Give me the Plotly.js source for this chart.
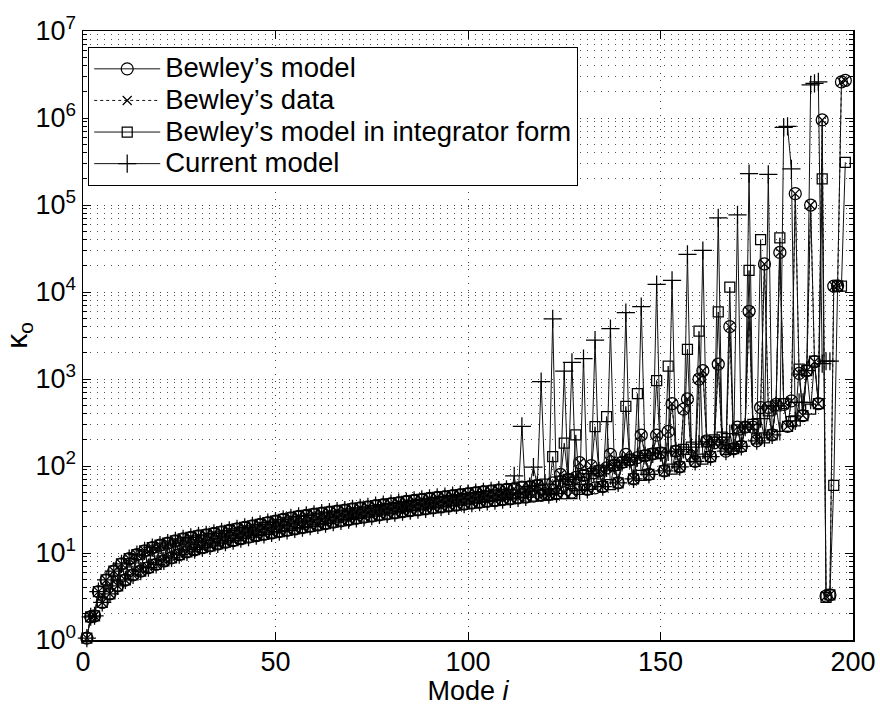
<!DOCTYPE html>
<html><head><meta charset="utf-8">
<script src="https://cdn.plot.ly/plotly-3.0.1.min.js"></script>
<style>html,body{margin:0;padding:0;background:#fff}#chart{width:880px;height:706px}</style>
</head><body><div id="chart"></div>
<script>
// kappa_o for modes 1..110 (all four series coincide here; odd/even modes form two bands)
const lowKappa = [
 1.05,1.85,1.9,3.6,2.7,4.9,3.4,6.2,4.2,7.5,
 4.9,8.6,5.6,9.6,6.2,10.6,6.8,11.5,7.4,12.3,
 8.1,13.0,8.8,13.8,9.6,14.5,10.3,15.1,10.9,15.7,
 11.5,16.2,12.1,16.8,12.7,17.5,13.3,18.2,13.9,18.9,
 14.6,19.7,15.2,20.5,15.8,21.4,16.4,22.3,17.0,23.3,
 17.6,24.3,18.2,25.4,18.9,26.3,19.6,27.1,20.3,27.9,
 21.0,28.7,21.8,29.5,22.6,30.3,23.4,31.2,24.2,32.1,
 25.0,33.0,25.8,34.0,26.6,35.0,27.4,36.0,28.2,37.0,
 29.0,38.0,29.8,39.1,30.6,40.2,31.4,41.3,32.2,42.4,
 33.0,43.5,33.8,44.6,34.7,45.8,35.6,47.0,36.5,48.2,
 37.4,49.4,38.3,50.6,39.2,51.8,40.1,53.0,41.0,54.0
];
// modes 111..198
const bewleyModelHigh = [
 42,55,43,57,44,58,45,60,46,48,
 47,64,48,80,49,70,50,74,109,78,
 54,101,56,88,58,95,136,102,64,110,
 136,118,71,125,226,132,80,138,226,142,
 88,250,520,148,98,450,590,130,113,1000,
 1245,195,128,185,1480,185,148,4000,158,280,
 168,280,6000,280,195,470,21000,470,228,510,
 28500,510,285,560,135000,1160,380,1250,100000,1580,
 520,950000,3.2,3.3,11700,11800,2600000,2700000
];
// modes 111..198
const integratorHigh = [
 42,55,43,57,44,58,45,60,46,62,
 47,128,48,67,183,70,48,228,54,78,
 54,82,283,88,58,370,61,102,64,110,
 485,118,71,680,78,132,80,138,960,142,
 88,1410,92,148,98,155,2190,165,113,3540,
 120,190,128,200,5900,215,154,11400,158,260,
 168,280,17700,300,205,40000,210,430,228,490,
 42000,520,285,324,330,1300,380,1250,450,1600,
 520,200000,3.1,3.3,60,11700,11700,310000
];
// modes 111..194
const currentModelHigh = [
 42,77,43,285,44,58,97,60,935,62,
 47,4900,48,67,1230,70,1550,74,52,1720,
 54,82,2800,88,58,95,3800,102,64,110,
 5800,118,71,125,6800,132,80,138,12200,142,
 88,145,13600,148,98,155,27000,165,113,178,
 30000,190,128,200,71000,215,148,235,158,77000,
 168,280,230000,300,195,350,210,225000,228,490,
 250,780000,800000,260000,330,540,540,1250,2400000,2500000,
 2600000,1500,1600,1600
];
const seriesNames = ["Bewley\u2019s model","Bewley\u2019s data","Bewley\u2019s model in integrator form","Current model"];
const xTickVals = [0,50,100,150,200];
const yTickVals = [1,10,100,1000,10000,100000,1000000,10000000];
const yTickText = ["10<sup>0</sup>","10<sup>1</sup>","10<sup>2</sup>","10<sup>3</sup>","10<sup>4</sup>","10<sup>5</sup>","10<sup>6</sup>","10<sup>7</sup>"];

const yModel = lowKappa.concat(bewleyModelHigh);
const yData = lowKappa.concat(bewleyModelHigh);
const yInt = lowKappa.concat(integratorHigh);
const yCur = lowKappa.concat(currentModelHigh);
const modesOf = arr => arr.map((_, k) => k + 1);

const minorVals = [];
for (let e = 0; e < 7; e++) for (let m = 2; m <= 9; m++) minorVals.push(m * Math.pow(10, e));

const FONT = "Liberation Sans, Arial, Helvetica, sans-serif";
const lineCol = "#111";
function tr(name, y, symbol, size, dash) {
  return {
    type: "scatter", mode: "lines+markers",
    name: '<span style="font-size:27.5px">' + name + '</span>',
    x: modesOf(y), y: y, cliponaxis: false,
    line: {color: lineCol, width: 1, dash: dash},
    marker: {symbol: symbol, size: size, color: "#000", line: {color: "#000", width: 1.25}}
  };
}
const data = [
  tr(seriesNames[0], yModel, "circle-open", 12, "solid"),
  tr(seriesNames[1], yData, "x-thin-open", 9, "dot"),
  tr(seriesNames[2], yInt, "square-open", 10, "solid"),
  tr(seriesNames[3], yCur, "cross-thin-open", 13, "solid")
];
const gridDash = "1px,6px";
const layout = {
  width: 880, height: 706,
  margin: {l: 83, r: 27, t: 22, b: 66},
  paper_bgcolor: "#fff", plot_bgcolor: "#fff",
  font: {family: FONT, size: 27, color: "#000"},
  showlegend: true,
  legend: {
    x: 0.0065, y: 0.974, xanchor: "left", yanchor: "top",
    bgcolor: "#fff", bordercolor: "#000", borderwidth: 1.2,
    font: {family: FONT, size: 22, color: "#000"}, itemwidth: 66
  },
  xaxis: {
    range: [0, 200], tickmode: "array", tickvals: xTickVals,
    ticks: "inside", ticklen: 8, tickwidth: 1, tickcolor: "#000",
    showline: true, linecolor: "#000", linewidth: 1.5, mirror: "ticks",
    showgrid: true, gridcolor: "#444", gridwidth: 1, griddash: gridDash,
    zeroline: false, tickfont: {size: 27}, automargin: false, ticklabelstandoff: -3,
    title: {text: "Mode <i>i</i>", font: {size: 27}}
  },
  yaxis: {
    type: "log", range: [0, 7], tickmode: "array", tickvals: yTickVals, ticktext: yTickText,
    ticks: "inside", ticklen: 8, tickwidth: 1, tickcolor: "#000",
    showline: true, linecolor: "#000", linewidth: 1.5, mirror: "ticks",
    showgrid: true, gridcolor: "#444", gridwidth: 1, griddash: gridDash,
    zeroline: false, tickfont: {size: 27}, automargin: true,
    minor: {tickmode: "array", tickvals: minorVals, ticks: "inside", ticklen: 4, tickcolor: "#000",
            showgrid: true, gridcolor: "#555", gridwidth: 1, griddash: gridDash},
    title: {text: "\u03ba<sub>o</sub>", font: {size: 30}, standoff: 0}
  }
};
Plotly.newPlot("chart", data, layout, {displayModeBar: false, staticPlot: true});
</script>
</body></html>
